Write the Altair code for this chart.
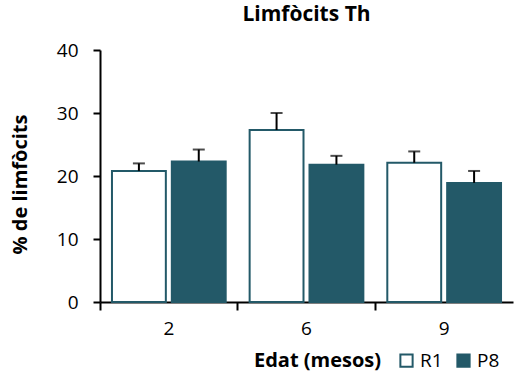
import altair as alt
import pandas as pd

ages = ["2", "2", "6", "6", "9", "9"]
groups = ["R1", "P8", "R1", "P8", "R1", "P8"]
means = [20.8, 22.3, 27.3, 21.8, 22.1, 18.9]
errs = [1.2, 1.9, 2.7, 1.4, 1.8, 1.9]

df = pd.DataFrame({"age": ages, "group": groups, "mean": means, "err": errs})
df["top"] = df["mean"] + df["err"]

TEAL = "#235968"
FONT = "Open Sans"

x = alt.X("age:N", sort=["2", "6", "9"],
          scale=alt.Scale(paddingInner=0, paddingOuter=0),
          axis=alt.Axis(title="Edat (mesos)", labelAngle=0, bandPosition=0,
                        labelFontSize=19, titleFontSize=20, titleFontWeight="bold",
                        labelPadding=9, titlePadding=12, tickSize=8, tickWidth=2,
                        domainWidth=2, domainColor="black", tickColor="black",
                        labelColor="black", titleColor="black", titleX=217))
xo = alt.XOffset("group:N", sort=["R1", "P8"],
                 scale=alt.Scale(paddingInner=0.1, paddingOuter=0.2))

bars = alt.Chart(df).mark_bar(stroke=TEAL, strokeWidth=2).encode(
    x=x, xOffset=xo,
    y=alt.Y("mean:Q", scale=alt.Scale(domain=[0, 40]),
            axis=alt.Axis(title="% de limfòcits", values=[0, 10, 20, 30, 40],
                          grid=False, labelFontSize=19, titleFontSize=20,
                          titleFontWeight="bold", tickSize=7, tickWidth=2,
                          domainWidth=2, domainColor="black", tickColor="black",
                          labelColor="black", titleColor="black", labelPadding=15,
                          titleX=-70, titleY=134)),
    fill=alt.Fill("group:N", sort=["R1", "P8"],
                  scale=alt.Scale(domain=["R1", "P8"], range=["white", TEAL]),
                  legend=alt.Legend(title=None, orient="none", direction="horizontal",
                                    legendX=297, legendY=301, symbolType="square",
                                    symbolSize=150, symbolStrokeColor=TEAL,
                                    symbolStrokeWidth=2, labelFontSize=19,
                                    labelColor="black", columnPadding=10,
                                    labelOffset=4)),
)

rules = alt.Chart(df).mark_rule(color="black", strokeWidth=2).encode(
    x=x, xOffset=xo, y="mean:Q", y2="top:Q")
caps = alt.Chart(df).mark_tick(color="black", thickness=2, size=12).encode(
    x=x, xOffset=xo, y="top:Q")

chart = alt.layer(bars, rules, caps).properties(
    width=413, height=252,
    title=alt.TitleParams("Limfòcits Th", fontSize=21, fontWeight="bold",
                          font=FONT, color="black", offset=16),
    autosize=alt.AutoSizeParams(type="none"),
    padding={"left": 100, "top": 50, "right": 3, "bottom": 70},
).configure(font=FONT).configure_view(stroke=None).configure_axis(
    labelFont=FONT, titleFont=FONT).configure_legend(labelFont=FONT)

chart.save("out.html", embed_options={"renderer": "svg", "actions": False})
